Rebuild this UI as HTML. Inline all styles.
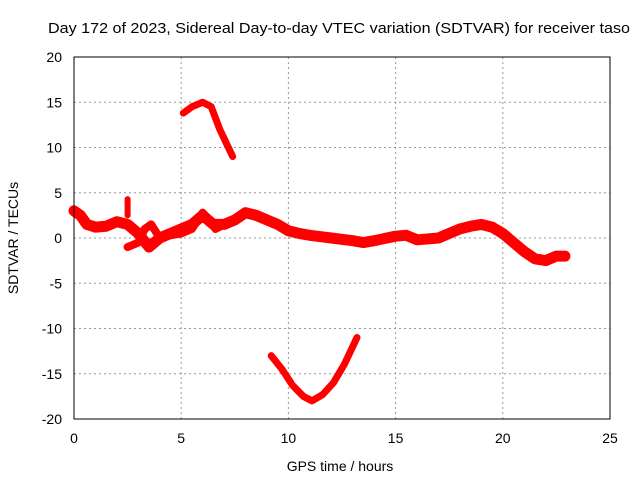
<!DOCTYPE html>
<html><head><meta charset="utf-8"><style>
body{margin:0;background:#fff;}
svg{display:block;font-family:"Liberation Sans",sans-serif;font-size:14px;}
</style></head><body>
<svg id="c" width="640" height="480">
<rect width="640" height="480" fill="#fff"/>
<text x="48" y="33" font-size="15" textLength="582" lengthAdjust="spacingAndGlyphs">Day 172 of 2023, Sidereal Day-to-day VTEC variation (SDTVAR) for receiver taso</text>
<g id="grid"></g><g id="ticks"></g><g id="series"></g>
<rect x="74" y="57" width="536" height="362" fill="none" stroke="#000"/>
<text x="340" y="471" text-anchor="middle">GPS time / hours</text>
<text transform="translate(18,238) rotate(-90)" text-anchor="middle">SDTVAR / TECUs</text>
</svg>
<script>
const xTicks=[0,5,10,15,20,25];
const yTicks=[-20,-15,-10,-5,0,5,10,15,20];
const mainT=[0,0.3,0.6,1,1.5,2,2.5,3,3.5,4,4.5,5,5.5,6,6.5,7,7.5,8,8.5,9,9.5,10,10.5,11,12,13,13.5,14,15,15.5,16,17,17.5,18,18.5,19,19.5,20,20.5,21,21.5,22,22.5,22.9];
const mainV=[3,2.5,1.5,1.2,1.3,1.8,1.5,0.5,-1,0,0.5,1,1.5,2.5,1.5,1.5,2,2.8,2.5,2,1.5,0.8,0.5,0.3,0,-0.3,-0.5,-0.3,0.2,0.3,-0.2,0,0.5,1,1.3,1.5,1.2,0.5,-0.5,-1.5,-2.3,-2.5,-2,-2];
const secT=[2.5,3,3.3,3.6,4,4.5,5,5.5,6,6.3,6.6,7];
const secV=[-1,-0.5,1,1.5,0,0.3,0.5,1,2.8,2,1,1.5];
const upT=[5.1,5.5,6,6.4,6.8,7.1,7.4];
const upV=[13.8,14.5,15,14.5,12,10.5,9];
const lowT=[9.2,9.7,10.2,10.7,11.1,11.6,12.1,12.6,13,13.2];
const lowV=[-13,-14.5,-16.3,-17.5,-18,-17.3,-16,-14,-12,-11];
const spikeT=[2.5,2.5];
const spikeV=[4.3,2.5];
const NS="http://www.w3.org/2000/svg";
const X=h=>74+h*536/25, Y=v=>238-v*362/40;
function mk(t,a,p){const e=document.createElementNS(NS,t);for(const k in a)e.setAttribute(k,a[k]);p.appendChild(e);return e;}
const g=document.getElementById('grid'),tk=document.getElementById('ticks'),s=document.getElementById('series');
xTicks.forEach(v=>{const x=X(v);
 if(v>0&&v<25){const l=mk('line',{x1:x,x2:x,y1:57,y2:419,stroke:'#999','stroke-dasharray':'2,3'},g);
 }
 const t=mk('text',{x:x,y:443,'text-anchor':'middle'},tk);t.textContent=v;
 });
yTicks.forEach(v=>{const y=Y(v);
 if(v>-20&&v<20){const l=mk('line',{x1:74,x2:610,y1:y,y2:y,stroke:'#999','stroke-dasharray':'2,3'},g);
 }
 const t=mk('text',{x:62,y:y+5,'text-anchor':'end'},tk);t.textContent=v;
 });
function line(T,V,name,w){const p=mk('polyline',{points:T.map((t,i)=>X(t)+','+Y(V[i])).join(' '),fill:'none',stroke:'#f00','stroke-width':w,'stroke-linejoin':'round','stroke-linecap':'round'},s);
 }
line(mainT,mainV,'series-main-band',11);
line(secT,secV,'series-secondary',8);
line(upT,upV,'series-upper-arc',7);
line(lowT,lowV,'series-lower-arc',7);
line(spikeT,spikeV,'series-spike',6);
</script>
</body></html>
